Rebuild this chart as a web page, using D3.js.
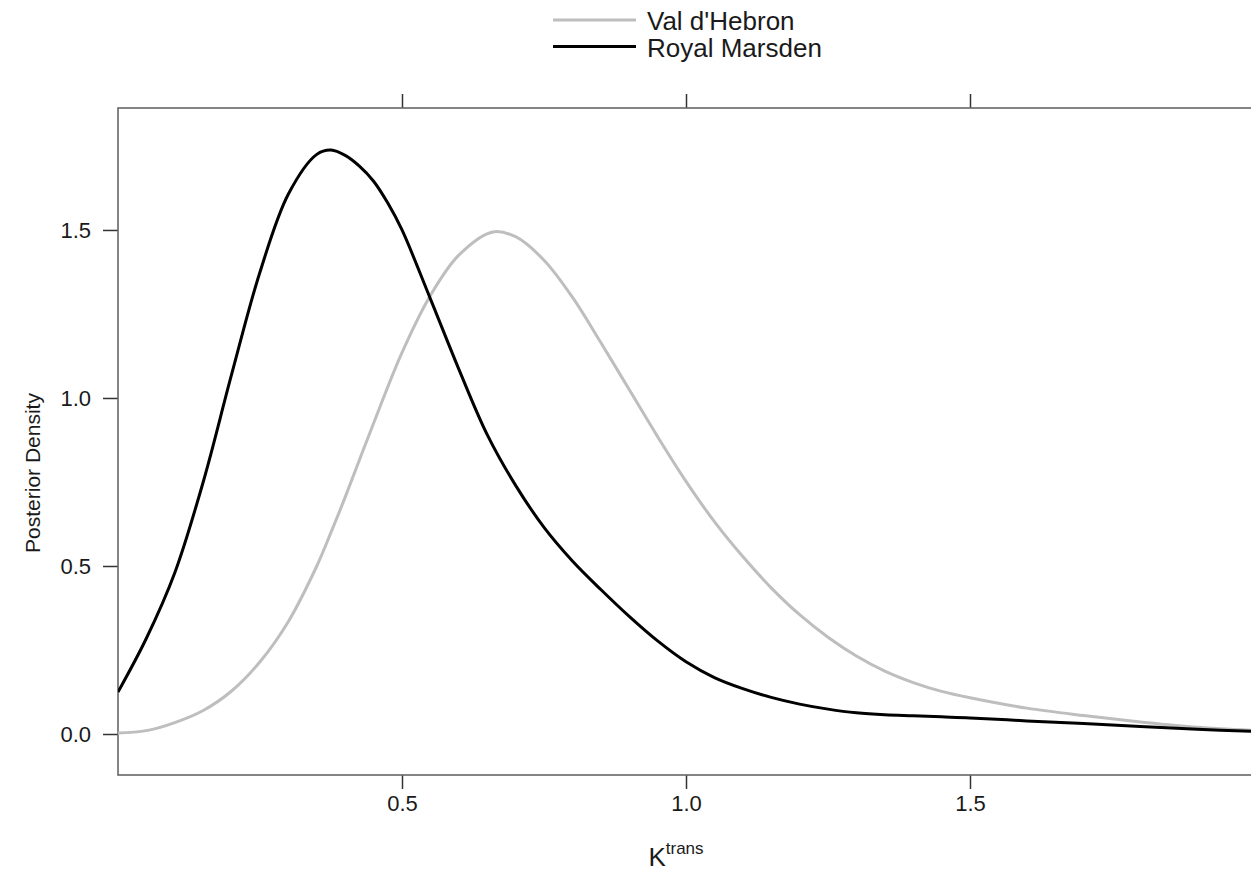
<!DOCTYPE html>
<html>
<head>
<meta charset="utf-8">
<script src="https://cdn.jsdelivr.net/npm/d3@7"></script>
<style>
  body { margin: 0; background: #fff; }
  text { font-family: "Liberation Sans", Arial, sans-serif; fill: #1a1a1a; }
</style>
</head>
<body>
<script>
// K^trans grids and posterior densities
const kMarsden = [0, 0.05, 0.1, 0.15, 0.2, 0.25, 0.3, 0.35, 0.375, 0.4,
  0.425, 0.45, 0.475, 0.5, 0.55, 0.6, 0.65, 0.7, 0.75, 0.8,
  0.85, 0.9, 0.95, 1.0, 1.05, 1.1, 1.15, 1.2, 1.25, 1.3,
  1.35, 1.4, 1.45, 1.5, 1.6, 1.7, 1.8, 1.9, 2.0]
const royalMarsden = [0.125, 0.285, 0.48, 0.75, 1.07, 1.375, 1.607, 1.725, 1.738, 1.722,
  1.69, 1.645, 1.58, 1.50, 1.295, 1.086, 0.891, 0.74, 0.615, 0.515,
  0.43, 0.35, 0.277, 0.215, 0.168, 0.135, 0.109, 0.089, 0.074, 0.063,
  0.057, 0.054, 0.051, 0.048, 0.039, 0.031, 0.022, 0.014, 0.008]
const kHebron = [0, 0.05, 0.1, 0.15, 0.2, 0.25, 0.3, 0.35, 0.375, 0.4,
  0.45, 0.5, 0.55, 0.6, 0.66, 0.7, 0.75, 0.8, 0.85, 0.9,
  0.95, 1.0, 1.05, 1.1, 1.15, 1.2, 1.25, 1.3, 1.35, 1.4,
  1.45, 1.5, 1.6, 1.7, 1.8, 1.9, 2.0]
const valDHebron = [0.003, 0.01, 0.034, 0.07, 0.128, 0.215, 0.335, 0.50, 0.60, 0.705,
  0.925, 1.135, 1.305, 1.425, 1.494, 1.48, 1.41, 1.30, 1.165, 1.025,
  0.885, 0.752, 0.632, 0.528, 0.435, 0.355, 0.288, 0.232, 0.187, 0.153,
  0.127, 0.108, 0.077, 0.055, 0.036, 0.02, 0.011]
const seriesNames = ["Val d'Hebron", "Royal Marsden"]
const seriesColors = ["#bebebe", "#000000"]
const xTicks = [0.5, 1.0, 1.5]
const yTicks = [0.0, 0.5, 1.0, 1.5]

const w = 1251
const h = 872
const padLeft = 118, padTop = 108, padBottom = 775, padRight = 1254

const svg = d3.select("body")
  .append("svg")
  .attr("width", w)
  .attr("height", h)

const xScale = d3.scaleLinear().domain([0, 2.0]).range([padLeft, padRight])
const yScale = d3.scaleLinear().domain([-0.122, 1.863]).range([padBottom, padTop])

svg.append("defs").append("clipPath")
  .attr("id", "panel")
  .append("rect")
  .attr("x", padLeft).attr("y", padTop)
  .attr("width", padRight - padLeft).attr("height", padBottom - padTop)

// axes: left/bottom labelled, top ticks only
const tickStyle = g => {
  g.select(".domain").remove()
  g.selectAll(".tick line").attr("stroke", "#333").attr("stroke-width", 1.5)
  g.selectAll(".tick text")
    .style("font-size", "22px")
    .attr("fill", "#1a1a1a")
}

svg.append("g")
  .attr("transform", "translate(0," + padBottom + ")")
  .call(d3.axisBottom(xScale).tickValues(xTicks).tickFormat(d3.format(".1f")).tickSize(14).tickPadding(6))
  .call(tickStyle)

svg.append("g")
  .attr("transform", "translate(0," + padTop + ")")
  .call(d3.axisTop(xScale).tickValues(xTicks).tickFormat("").tickSize(14))
  .call(tickStyle)

svg.append("g")
  .attr("transform", "translate(" + padLeft + ",0)")
  .call(d3.axisLeft(yScale).tickValues(yTicks).tickFormat(d3.format(".1f")).tickSize(15).tickPadding(12))
  .call(tickStyle)

// panel box (right edge falls outside the window)
svg.append("rect")
  .attr("x", padLeft).attr("y", padTop)
  .attr("width", padRight - padLeft).attr("height", padBottom - padTop)
  .attr("fill", "none")
  .attr("stroke", "#666")
  .attr("stroke-width", 1.6)

const lineFor = ks => d3.line()
  .x((d, i) => xScale(ks[i]))
  .y(d => yScale(d))
  .curve(d3.curveCatmullRom.alpha(0.5))

const plot = svg.append("g").attr("clip-path", "url(#panel)")
const series = [[kHebron, valDHebron], [kMarsden, royalMarsden]]
series.forEach(([ks, vals], i) => {
  plot.append("path")
    .attr("d", lineFor(ks)(vals))
    .attr("fill", "none")
    .attr("stroke", seriesColors[i])
    .attr("stroke-width", 3)
})

// axis labels
const xlab = svg.append("text")
  .attr("x", 676)
  .attr("y", 866)
  .attr("text-anchor", "middle")
  .style("font-size", "26px")
xlab.append("tspan").text("K")
xlab.append("tspan").attr("dy", -12).style("font-size", "17px").text("trans")

svg.append("text")
  .attr("transform", "translate(40,473) rotate(-90)")
  .attr("text-anchor", "middle")
  .style("font-size", "21px")
  .text("Posterior Density")

// legend
const legend = svg.append("g")
seriesNames.forEach((name, i) => {
  const ly = 20 + i * 26.5
  legend.append("line")
    .attr("x1", 553).attr("x2", 636)
    .attr("y1", ly).attr("y2", ly)
    .attr("stroke", seriesColors[i])
    .attr("stroke-width", 3)
  legend.append("text")
    .attr("x", 647)
    .attr("y", ly + 10)
    .style("font-size", "26px")
    .text(name)
})
</script>
</body>
</html>
